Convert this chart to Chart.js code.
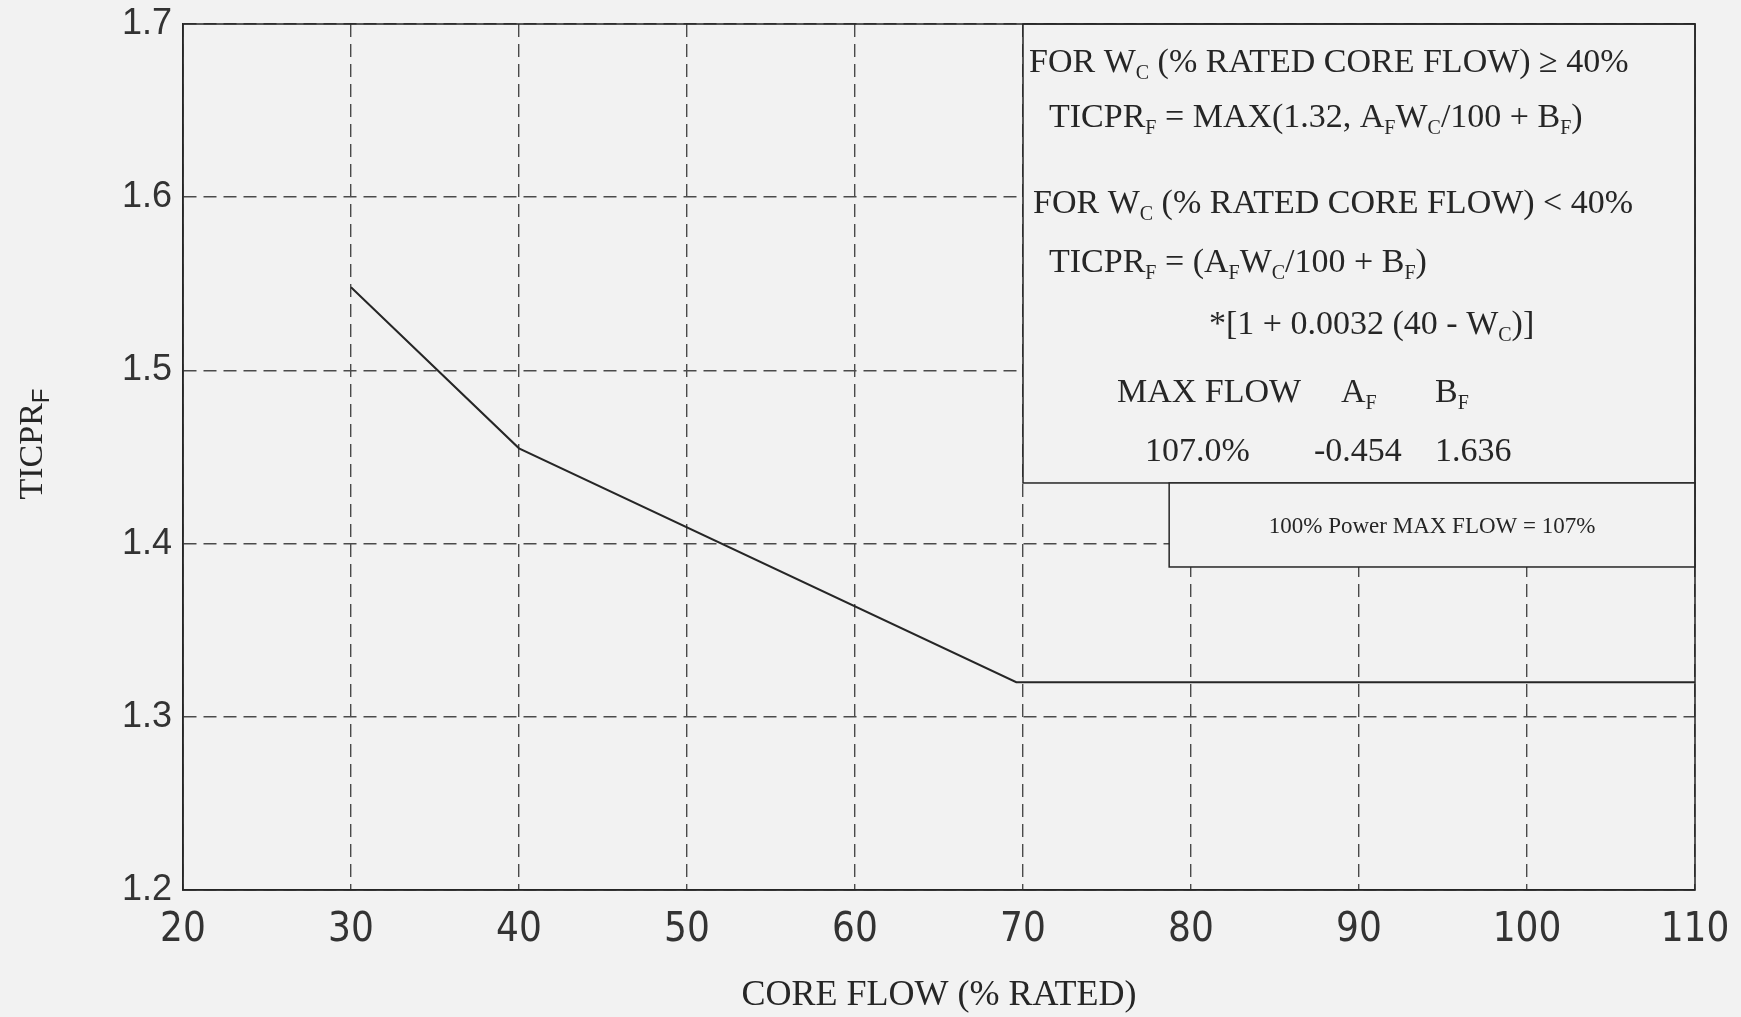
<!DOCTYPE html>
<html>
<head>
<meta charset="utf-8">
<script src="https://cdn.jsdelivr.net/npm/chart.js@4.4.0/dist/chart.umd.min.js"></script>
<style>
  html, body { margin: 0; padding: 0; background: #f2f2f2; }
  #wrap { width: 1741px; height: 1017px; }
</style>
</head>
<body>
<div id="wrap"><canvas id="ticpr-chart" width="1741" height="1017"></canvas></div>
<script>
// data
const coreFlow = [30, 40, 69.6, 110];
const ticprF = [1.548, 1.455, 1.32, 1.32];
const xTickValues = [20, 30, 40, 50, 60, 70, 80, 90, 100, 110];
const yTickValues = [1.2, 1.3, 1.4, 1.5, 1.6, 1.7];

// boxes in data units
const infoBoxX = [70, 110];
const infoBoxY = [1.435, 1.7];
const noteBoxX = [78.7, 110];
const noteBoxY = [1.3865, 1.435];

const bg = '#f2f2f2';
const ink = '#262626';
const serif = '"Liberation Serif", "Times New Roman", serif';

function drawRuns(ctx, runs, x, y, size) {
    runs.forEach(function(r) {
        var sub = r[1];
        var fs = sub ? Math.round(size * 0.6) : size;
        ctx.font = fs + 'px ' + serif;
        ctx.fillText(r[0], x, sub ? y + size * 0.22 : y);
        x += ctx.measureText(r[0]).width;
    });
}

const boxPlugin = {
    id: 'boxes',
    beforeDatasetsDraw(chart) {
        const ctx = chart.ctx;
        const x = chart.scales.x, y = chart.scales.y;
        ctx.save();
        ctx.fillStyle = bg;
        ctx.strokeStyle = ink;
        ctx.lineWidth = 1.5;
        [[infoBoxX, infoBoxY], [noteBoxX, noteBoxY]].forEach(function(b) {
            var l = x.getPixelForValue(b[0][0]), r = x.getPixelForValue(b[0][1]);
            var t = y.getPixelForValue(b[1][1]), btm = y.getPixelForValue(b[1][0]);
            ctx.fillRect(l, t, r - l, btm - t);
            ctx.strokeRect(l, t, r - l, btm - t);
        });

        // text inside the info box
        var bl = x.getPixelForValue(infoBoxX[0]);
        var bt = y.getPixelForValue(infoBoxY[1]);
        var fs = 34;
        ctx.fillStyle = ink;
        ctx.textBaseline = 'alphabetic';
        ctx.textAlign = 'left';
        drawRuns(ctx, [['FOR W'], ['C', 1], [' (% RATED CORE FLOW) \u2265 40%']], bl + 6, bt + 48, fs);
        drawRuns(ctx, [['TICPR'], ['F', 1], [' = MAX(1.32, A'], ['F', 1], ['W'], ['C', 1], ['/100 + B'], ['F', 1], [')']], bl + 26, bt + 103, fs);
        drawRuns(ctx, [['FOR W'], ['C', 1], [' (% RATED CORE FLOW) < 40%']], bl + 10, bt + 189, fs);
        drawRuns(ctx, [['TICPR'], ['F', 1], [' = (A'], ['F', 1], ['W'], ['C', 1], ['/100 + B'], ['F', 1], [')']], bl + 26, bt + 248, fs);
        drawRuns(ctx, [['*[1 + 0.0032 (40 - W'], ['C', 1], [')]']], bl + 186, bt + 310, fs);
        drawRuns(ctx, [['MAX FLOW']], bl + 94, bt + 378, fs);
        drawRuns(ctx, [['A'], ['F', 1]], bl + 318, bt + 378, fs);
        drawRuns(ctx, [['B'], ['F', 1]], bl + 412, bt + 378, fs);
        drawRuns(ctx, [['107.0%']], bl + 122, bt + 437, fs);
        drawRuns(ctx, [['-0.454']], bl + 291, bt + 437, fs);
        drawRuns(ctx, [['1.636']], bl + 412, bt + 437, fs);

        // note box
        var nl = x.getPixelForValue(noteBoxX[0]), nr = x.getPixelForValue(noteBoxX[1]);
        var nt = y.getPixelForValue(noteBoxY[1]);
        ctx.font = '23px ' + serif;
        ctx.textAlign = 'center';
        ctx.fillText('100% Power MAX FLOW = 107%', (nl + nr) / 2, nt + 50);
        ctx.restore();
    },
    afterDatasetsDraw(chart) {
        const ctx = chart.ctx;
        const a = chart.chartArea;
        ctx.save();
        ctx.strokeStyle = ink;
        ctx.lineWidth = 1.5;
        ctx.strokeRect(a.left, a.top, a.right - a.left, a.bottom - a.top);

        // y axis title with subscript
        ctx.translate(33, 444);
        ctx.rotate(-Math.PI / 2);
        ctx.fillStyle = ink;
        ctx.textBaseline = 'middle';
        ctx.font = '34px ' + serif;
        var w1 = ctx.measureText('TICPR').width;
        ctx.font = '24px "Liberation Sans", Arial, sans-serif';
        var w2 = ctx.measureText('F').width;
        var sx = -(w1 + w2) / 2;
        ctx.font = '34px ' + serif;
        ctx.fillText('TICPR', sx, 0);
        ctx.font = '24px "Liberation Sans", Arial, sans-serif';
        ctx.fillText('F', sx + w1, 9);
        ctx.restore();
    }
};

const gridDash = {
    color: '#4a4a4a',
    lineWidth: 1.4,
    drawTicks: false
};

new Chart(document.getElementById('ticpr-chart'), {
    type: 'scatter',
    data: {
        datasets: [{
            label: 'TICPR F',
            data: coreFlow.map((v, i) => ({ x: v, y: ticprF[i] })),
            showLine: true,
            borderColor: ink,
            borderWidth: 2,
            pointRadius: 0,
            tension: 0
        }]
    },
    options: {
        responsive: false,
        animation: false,
        layout: { padding: { top: 24, right: 46, left: 0, bottom: 0 } },
        plugins: {
            legend: { display: false },
            tooltip: { enabled: false }
        },
        scales: {
            x: {
                type: 'linear',
                min: 20,
                max: 110,
                afterBuildTicks: (s) => { s.ticks = xTickValues.map(v => ({ value: v })); },
                afterFit: (s) => { s.height = 127; s.paddingLeft = 0; s.paddingRight = 0; },
                grid: gridDash,
                border: { display: true, color: ink, width: 1.5, dash: [13, 7] },
                ticks: {
                    padding: 17,
                    color: '#333',
                    font: { family: '"DejaVu Sans Condensed", "Liberation Sans Narrow", "Liberation Sans", Arial, sans-serif', size: 40 },
                    maxRotation: 0,
                    autoSkip: false
                },
                title: {
                    display: true,
                    text: 'CORE FLOW (% RATED)',
                    color: ink,
                    font: { family: serif, size: 36 },
                    padding: { top: 0, bottom: 0 }
                }
            },
            y: {
                type: 'linear',
                min: 1.2,
                max: 1.7,
                afterBuildTicks: (s) => { s.ticks = yTickValues.map(v => ({ value: v })); },
                afterFit: (s) => { s.width = 183; s.paddingTop = 0; s.paddingBottom = 0; },
                grid: gridDash,
                border: { display: true, color: ink, width: 1.5, dash: [13, 7] },
                ticks: {
                    padding: 11,
                    color: '#333',
                    font: { family: '"Liberation Sans", Arial, sans-serif', size: 36 },
                    callback: (v) => v.toFixed(1)
                }
            }
        }
    },
    plugins: [boxPlugin]
});
</script>
</body>
</html>
